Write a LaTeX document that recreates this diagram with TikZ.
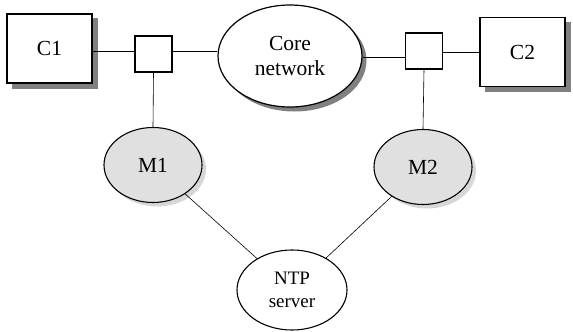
\documentclass[tikz,border=0pt]{standalone}
\usepackage{fontspec}
\setmainfont{Liberation Serif}
\usetikzlibrary{shapes.geometric,backgrounds}
\definecolor{edgeblack}{RGB}{0,0,0}
\definecolor{darkshade}{RGB}{128,128,128}
\definecolor{lightshade}{RGB}{215,215,215}
\definecolor{monfill}{RGB}{224,224,224}
\tikzset{
  hostbox/.style={draw=edgeblack,line width=1.2pt,fill=white,rectangle,minimum width=85pt,minimum height=69pt,inner sep=0pt,font=\fontsize{21.5}{24}\selectfont},
  switchbox/.style={draw=edgeblack,line width=1.2pt,fill=white,rectangle,minimum width=37pt,minimum height=36pt,inner sep=0pt},
  monnode/.style={draw=edgeblack,line width=1.1pt,fill=monfill,ellipse,minimum width=98pt,minimum height=75pt,inner sep=0pt,font=\fontsize{21.5}{24}\selectfont},
  coreshape/.style={ellipse,minimum width=144pt,minimum height=102pt,inner sep=0pt},
  link/.style={draw=edgeblack,line width=0.6pt}
}
\begin{document}
\begin{tikzpicture}[x=1pt,y=-1pt]
\path[use as bounding box] (0,0) rectangle (573,332);
\node[hostbox] (c1) at (49.5,48.5) {C1};
\node[hostbox] (c2) at (522.5,52) {C2};
\node[switchbox] (sw1) at (153.5,54) {};
\node[switchbox] (sw2) at (424,51) {};
\node[coreshape,draw=edgeblack,line width=1.2pt,fill=white,align=center,font=\fontsize{21.5}{25}\selectfont] (core) at (290,56) {Core\\network};
\node[monnode] (m1) at (153,165) {M1};
\node[monnode] (m2) at (423,167) {M2};
\node[draw=edgeblack,line width=1.1pt,fill=white,ellipse,minimum width=110pt,minimum height=80pt,inner sep=0pt,align=center,font=\fontsize{19}{23}\selectfont] (ntp) at (292,290) {NTP\\server};
% shadows
\begin{scope}[on background layer]
\fill[darkshade] ([xshift=5.5pt,yshift=-5pt]c1.south west) rectangle ([xshift=5.5pt,yshift=-5pt]c1.north east);
\fill[darkshade] ([xshift=5.5pt,yshift=-5pt]c2.south west) rectangle ([xshift=5.5pt,yshift=-5pt]c2.north east);
\node[coreshape,fill=darkshade] (coreshadow) at ([xshift=4.5pt,yshift=-4.5pt]core.center) {};
\node[monnode,draw=none,fill=lightshade] (m1shadow) at ([xshift=4pt,yshift=-4pt]m1.center) {};
\node[monnode,draw=none,fill=lightshade] (m2shadow) at ([xshift=4pt,yshift=-4pt]m2.center) {};
\end{scope}
% links
\draw[link] ([yshift=-2.5pt]c1.east) -- ([yshift=-2.5pt]c1.east -| sw1.west);
\draw[link] ([yshift=3pt]sw1.east) -- ([yshift=3pt]sw1.east -| core.west);
\draw[link] ([yshift=-1pt]core.east) -- ([yshift=-1pt]core.east -| sw2.west);
\draw[link] ([yshift=-1pt]sw2.east) -- ([yshift=-1pt]sw2.east -| c2.west);
\draw[link] (sw1.south) -- (m1.north);
\draw[link] (sw2.south) -- (m2.north);
\draw[link] (m1) -- (ntp);
\draw[link] (m2) -- (ntp);
\end{tikzpicture}
\end{document}
